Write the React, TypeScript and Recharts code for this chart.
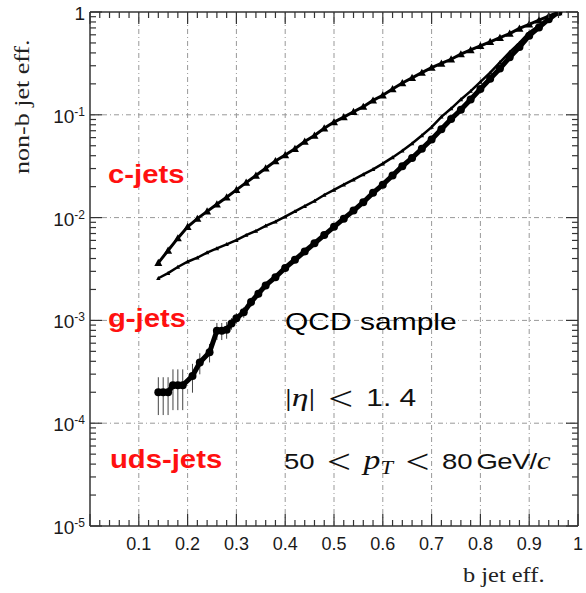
import React from "react";
import { ComposedChart, Line, XAxis, YAxis, ReferenceLine, ErrorBar } from "recharts";

// b-tagging efficiency (x) shared by the c and g curves
const bEff = [
  0.14, 0.16, 0.18, 0.2, 0.22, 0.24, 0.26, 0.28, 0.3, 0.32, 0.34, 0.36, 0.38, 0.4,
  0.42, 0.44, 0.46, 0.48, 0.5, 0.52, 0.54, 0.56, 0.58, 0.6, 0.62, 0.64, 0.66, 0.68,
  0.7, 0.72, 0.74, 0.76, 0.78, 0.8, 0.82, 0.84, 0.86, 0.88, 0.9, 0.92, 0.94, 0.96,
];

const cMistag = [
  0.00363, 0.00479, 0.00631, 0.00813, 0.00977, 0.0115, 0.0135, 0.0158, 0.0186, 0.0219,
  0.0257, 0.0302, 0.0355, 0.0407, 0.0468, 0.055, 0.063, 0.074, 0.085, 0.095, 0.107,
  0.12, 0.138, 0.155, 0.178, 0.204, 0.229, 0.257, 0.288, 0.316, 0.347, 0.389, 0.427,
  0.468, 0.513, 0.562, 0.617, 0.692, 0.759, 0.832, 0.912, 1.0,
];

const gMistag = [
  0.00257, 0.00288, 0.00331, 0.00372, 0.00407, 0.00457, 0.00501, 0.0055, 0.00603,
  0.00676, 0.00741, 0.00832, 0.00912, 0.0102, 0.0115, 0.0129, 0.0145, 0.0166, 0.0186,
  0.0209, 0.0234, 0.0263, 0.0295, 0.0335, 0.0385, 0.0447, 0.0525, 0.063, 0.0759, 0.0955,
  0.115, 0.141, 0.17, 0.209, 0.257, 0.324, 0.407, 0.501, 0.631, 0.741, 0.871, 1.0,
];

const udsEff = [
  0.14, 0.15, 0.16, 0.17, 0.18, 0.19, 0.21, 0.225, 0.245, 0.26, 0.27, 0.28, 0.29, 0.3,
  0.315, 0.33, 0.345, 0.36, 0.38, 0.4, 0.42, 0.44, 0.46, 0.48, 0.5, 0.52, 0.54, 0.56,
  0.58, 0.6, 0.62, 0.64, 0.66, 0.68, 0.7, 0.72, 0.74, 0.76, 0.78, 0.8, 0.82, 0.84,
  0.86, 0.88, 0.9, 0.92, 0.94, 0.96,
];

const udsMistag = [
  0.0002, 0.0002, 0.0002, 0.000234, 0.000234, 0.000234, 0.000288, 0.000389, 0.00049,
  0.000794, 0.000794, 0.000813, 0.000933, 0.00105, 0.0012, 0.00151, 0.00182, 0.00219,
  0.00263, 0.00324, 0.00389, 0.00468, 0.00562, 0.00676, 0.00813, 0.00977, 0.0117,
  0.0141, 0.0174, 0.0209, 0.0257, 0.0316, 0.038, 0.0468, 0.0575, 0.0724, 0.0912, 0.112,
  0.141, 0.178, 0.224, 0.282, 0.363, 0.457, 0.589, 0.708, 0.851, 1.0,
];

const udsErr = [
  0.00008, 0.00008, 0.00008, 0.0001, 0.0001, 0.0001, 0.00009, 0.00009, 0.0001, 0.00015,
  0.00015, 0.00015, 0.00012, 0.00012, 0.00014, 0.00015, 0.00016, 0.00018, 0.0002, 0,
  0, 0, 0, 0, 0, 0, 0, 0, 0, 0, 0, 0, 0, 0, 0, 0, 0, 0, 0, 0, 0, 0, 0, 0, 0, 0, 0, 0,
];

const xTickLabels = ["0.1", "0.2", "0.3", "0.4", "0.5", "0.6", "0.7", "0.8", "0.9", "1"];
const xGrid = [0.1, 0.2, 0.3, 0.4, 0.5, 0.6, 0.7, 0.8, 0.9];
const yGrid = [1e-4, 1e-3, 1e-2, 1e-1];
const yDecades = [-5, -4, -3, -2, -1];

const cData = bEff.map((x, i) => ({ x, y: cMistag[i] }));
const gData = bEff.map((x, i) => ({ x, y: gMistag[i] }));
const udsData = udsEff.map((x, i) => ({ x, y: udsMistag[i], e: udsErr[i] }));

const xTicks = Array.from({ length: 51 }, (_, i) => i / 50);
const yTicks: number[] = [];
yDecades.forEach((k) => {
  for (let m = 1; m <= 9; m++) yTicks.push(m * Math.pow(10, k));
});
yTicks.push(1);

const axisColor = "#333";
const sans = "'Liberation Sans', Arial, Helvetica, sans-serif";
const serif = "'Liberation Serif', 'Times New Roman', serif";

const isMajorX = (v: number) => Math.abs(v * 10 - Math.round(v * 10)) < 1e-6;
const isMajorY = (v: number) => Math.abs(Math.log10(v) - Math.round(Math.log10(v))) < 1e-6;

// ticks point inward, like a ROOT frame
function XTick(props: any) {
  const { payload, side } = props;
  const x = Number(props.x);
  const y = Number(props.y);
  const v = payload.value;
  const major = isMajorX(v);
  const len = major ? 12 : 6;
  const dir = side === "bottom" ? -1 : 1;
  const idx = Math.round(v * 10);
  return (
    <g>
      <path d={`M${x},${y} L${x},${y + dir * len}`} stroke={axisColor} strokeWidth={1.2} fill="none" />
      {side === "bottom" && major && idx > 0 && (
        <text x={x} y={y + 24} textAnchor="middle" fontSize={18} fontFamily={sans} fill="#1a1a1a">
          {xTickLabels[idx - 1]}
        </text>
      )}
    </g>
  );
}

function YTick(props: any) {
  const { payload, side } = props;
  const x = Number(props.x);
  const y = Number(props.y);
  const v = payload.value;
  const major = isMajorY(v);
  const len = major ? 12 : 6;
  const dir = side === "left" ? 1 : -1;
  const exp = Math.round(Math.log10(v));
  return (
    <g>
      <path d={`M${x},${y} L${x + dir * len},${y}`} stroke={axisColor} strokeWidth={1.2} fill="none" />
      {side === "left" && major && (
        <text x={x - 5} y={y + 8} textAnchor="end" fontSize={19} fontFamily={sans} fill="#1a1a1a">
          {exp === 0 ? (
            "1"
          ) : (
            <>
              <tspan>10</tspan>
              <tspan dy={-7} fontSize={12}>{`-${-exp}`}</tspan>
            </>
          )}
        </text>
      )}
    </g>
  );
}

const Triangle = (size: number) => (p: any) => {
  const { cx, cy, index } = p;
  if (cx == null || cy == null) return <g key={index} />;
  return (
    <path
      key={index}
      d={`M${cx},${cy - size} L${cx + size},${cy + size * 0.8} L${cx - size},${cy + size * 0.8} Z`}
      fill="#000"
    />
  );
};

const Circle = (r: number) => (p: any) => {
  const { cx, cy, index } = p;
  if (cx == null || cy == null) return <g key={index} />;
  return <circle key={index} cx={cx} cy={cy} r={r} fill="#000" />;
};

const txt: React.CSSProperties = {
  position: "absolute",
  whiteSpace: "nowrap",
  lineHeight: 1,
  transformOrigin: "left top",
  fontFamily: sans,
};

const red: React.CSSProperties = {
  ...txt,
  color: "#ff1010",
  fontWeight: "bold",
  fontSize: 25,
  transform: "scaleX(1.17)",
};

const lt = (
  <span style={{ fontFamily: serif, fontSize: 34, margin: "0 10px", position: "relative", top: 4 }}>
    &lt;
  </span>
);

export default function App() {
  return (
    <div style={{ position: "absolute", left: 0, top: 0, width: 586, height: 593, background: "#fff" }}>
      <ComposedChart width={586} height={593} data={cData} margin={{ top: 10, right: 6, bottom: 0, left: 0 }}>
        <XAxis
          dataKey="x"
          type="number"
          domain={[0, 1]}
          allowDataOverflow
          ticks={xTicks}
          interval={0}
          height={67}
          tickSize={0}
          tickMargin={0}
          axisLine={{ stroke: axisColor, strokeWidth: 1.5 }}
          tickLine={false}
          tick={(p: any) => <XTick {...p} side="bottom" />}
        />
        <XAxis
          xAxisId="t"
          dataKey="x"
          orientation="top"
          type="number"
          domain={[0, 1]}
          allowDataOverflow
          ticks={xTicks}
          interval={0}
          height={2}
          tickSize={0}
          tickMargin={0}
          axisLine={{ stroke: axisColor, strokeWidth: 1.5 }}
          tickLine={false}
          tick={(p: any) => <XTick {...p} side="top" />}
        />
        <YAxis
          scale="log"
          type="number"
          domain={[1e-5, 1]}
          allowDataOverflow
          ticks={yTicks}
          interval={0}
          width={90}
          tickSize={0}
          tickMargin={0}
          axisLine={{ stroke: axisColor, strokeWidth: 1.5 }}
          tickLine={false}
          tick={(p: any) => <YTick {...p} side="left" />}
        />
        <YAxis
          yAxisId="r"
          dataKey="y"
          orientation="right"
          scale="log"
          type="number"
          domain={[1e-5, 1]}
          allowDataOverflow
          ticks={yTicks}
          interval={0}
          width={2}
          tickSize={0}
          tickMargin={0}
          axisLine={{ stroke: axisColor, strokeWidth: 1.5 }}
          tickLine={false}
          tick={(p: any) => <YTick {...p} side="right" />}
        />
        {xGrid.map((v) => (
          <ReferenceLine key={`gx${v}`} x={v} stroke="#999" strokeWidth={1} strokeDasharray="5 3 1 3" />
        ))}
        {yGrid.map((v) => (
          <ReferenceLine key={`gy${v}`} y={v} stroke="#999" strokeWidth={1} strokeDasharray="5 3 1 3" />
        ))}
        <Line
          data={udsData}
          dataKey="y"
          stroke="#000"
          strokeWidth={5}
          dot={Circle(4)}
          isAnimationActive={false}
        >
          <ErrorBar dataKey="e" direction="y" width={0} stroke="#444" strokeWidth={1} isAnimationActive={false} />
        </Line>
        <Line
          data={gData}
          dataKey="y"
          stroke="#000"
          strokeWidth={2.5}
          dot={Triangle(2.2)}
          isAnimationActive={false}
        />
        <Line
          data={cData}
          dataKey="y"
          stroke="#000"
          strokeWidth={3}
          dot={Triangle(4)}
          isAnimationActive={false}
        />
      </ComposedChart>

      <div style={{ ...red, left: 108, top: 162 }}>c-jets</div>
      <div style={{ ...red, left: 108, top: 306 }}>g-jets</div>
      <div style={{ ...red, left: 110, top: 447 }}>uds-jets</div>

      <div style={{ ...txt, left: 285, top: 310, fontSize: 24, color: "#000", transform: "scaleX(1.25)" }}>
        QCD sample
      </div>
      <div style={{ ...txt, left: 285, top: 378, fontSize: 23, color: "#111", transform: "scaleX(1.3)" }}>
        <span style={{ fontFamily: serif, fontSize: 26 }}>
          |<i>η</i>|
        </span>
        {lt}1. 4
      </div>
      <div style={{ ...txt, left: 284, top: 441, fontSize: 22, color: "#111", transform: "scaleX(1.25)" }}>
        50{lt}
        <span style={{ fontFamily: serif, fontStyle: "italic", fontSize: 27 }}>p</span>
        <sub style={{ fontFamily: serif, fontStyle: "italic", fontSize: 18 }}>T</sub>
        {lt}80 <span style={{ marginLeft: -3, letterSpacing: -0.5 }}>GeV/</span>
        <span style={{ fontFamily: serif, fontStyle: "italic", fontSize: 25 }}>c</span>
      </div>

      <div
        style={{
          ...txt,
          left: 12,
          top: 174,
          fontFamily: serif,
          fontSize: 20,
          color: "#222",
          transform: "rotate(-90deg) scaleX(1.3)",
        }}
      >
        non-b jet eff.
      </div>
      <div
        style={{
          ...txt,
          left: 463,
          top: 565,
          fontFamily: serif,
          fontSize: 20,
          color: "#222",
          transform: "scaleX(1.22)",
        }}
      >
        b jet eff.
      </div>
    </div>
  );
}
